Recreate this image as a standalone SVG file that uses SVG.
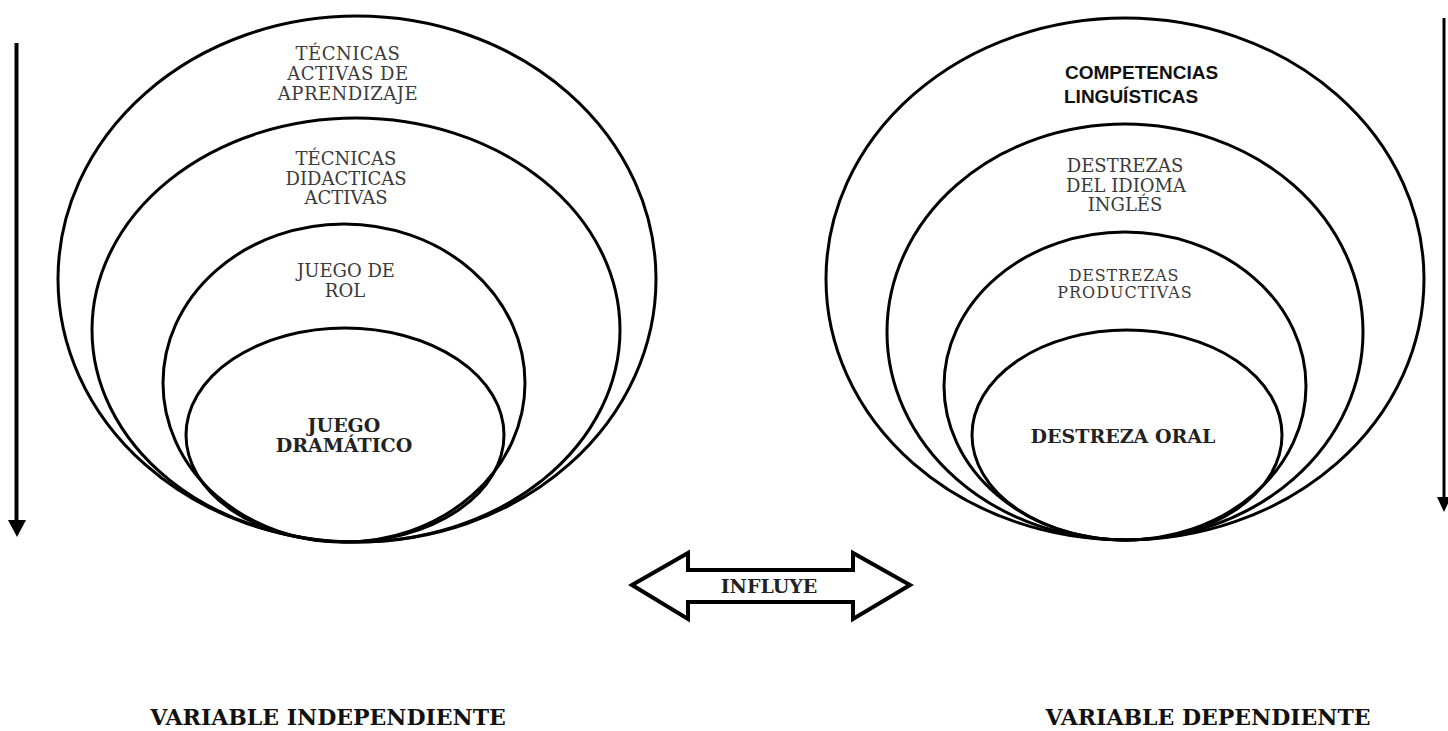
<svg xmlns="http://www.w3.org/2000/svg" width="1448" height="731" viewBox="0 0 1448 731">
<defs>
<style>
.e{fill:none;stroke:#000;stroke-width:3}
.t{font-family:"DejaVu Serif",serif;font-size:18px;fill:#3a3a3a;text-anchor:middle}
.b{font-family:"DejaVu Serif",serif;font-size:19px;font-weight:bold;fill:#222;text-anchor:middle}
.c{font-family:"Liberation Sans",Arial,sans-serif;font-size:19px;font-weight:bold;fill:#111;text-anchor:start}
.v{font-family:"DejaVu Serif",serif;font-size:22px;font-weight:bold;fill:#111;text-anchor:middle}
</style>
</defs>
<rect width="1448" height="731" fill="#fff"/>
<g id="left-outer"><ellipse class="e" cx="357" cy="279" rx="299" ry="263"/><text class="t" x="348" y="60" style="letter-spacing:0.5px">TÉCNICAS</text><text class="t" x="348" y="80" style="letter-spacing:0.5px">ACTIVAS DE</text><text class="t" x="348" y="100" style="letter-spacing:0.5px">APRENDIZAJE</text></g>
<g id="left-2"><ellipse class="e" cx="356" cy="330" rx="264" ry="212"/><text class="t" x="346" y="165">TÉCNICAS</text><text class="t" x="346" y="185">DIDACTICAS</text><text class="t" x="346" y="204">ACTIVAS</text></g>
<g id="left-3"><ellipse class="e" cx="344" cy="383" rx="181" ry="159"/><text class="t" x="346" y="277">JUEGO DE</text><text class="t" x="345" y="297">ROL</text></g>
<g id="left-inner"><ellipse class="e" cx="345" cy="435" rx="159" ry="107"/><text class="b" x="344" y="432">JUEGO</text><text class="b" x="344" y="452">DRAMÁTICO</text></g>
<g id="right-outer"><ellipse class="e" cx="1125" cy="279" rx="299" ry="261"/><text class="c" x="1065" y="79">COMPETENCIAS</text><text class="c" x="1064" y="103">LINGUÍSTICAS</text></g>
<g id="right-2"><ellipse class="e" cx="1125" cy="332" rx="238" ry="208"/><text class="t" x="1125" y="172">DESTREZAS</text><text class="t" x="1126" y="192">DEL IDIOMA</text><text class="t" x="1125" y="211">INGLÉS</text></g>
<g id="right-3"><ellipse class="e" cx="1125" cy="386" rx="181" ry="154"/><text class="t" x="1124" y="281" style="font-size:16px;letter-spacing:0.8px">DESTREZAS</text><text class="t" x="1125" y="298" style="font-size:16px;letter-spacing:1px">PRODUCTIVAS</text></g>
<g id="right-inner"><ellipse class="e" cx="1127" cy="435" rx="155" ry="105"/><text class="b" x="1123" y="443">DESTREZA ORAL</text></g>
<g id="influye"><path d="M632 585 L688 553 L688 570 L853 570 L853 553 L910 585 L853 619 L853 602 L688 602 L688 619 Z" fill="#fff" stroke="#000" stroke-width="4" stroke-linejoin="miter"/><text class="b" x="769" y="593">INFLUYE</text></g>
<g id="connectors">
<line x1="16.5" y1="43" x2="16.5" y2="522" stroke="#000" stroke-width="4"/>
<polygon points="8,520 26,520 17,537" fill="#000"/>
<line x1="1444" y1="18" x2="1444" y2="500" stroke="#000" stroke-width="3"/>
<polygon points="1437,497 1451,497 1444,512" fill="#000"/>
</g>
<g id="labels"><text class="v" x="328" y="725">VARIABLE INDEPENDIENTE</text><text class="v" x="1208" y="725">VARIABLE DEPENDIENTE</text></g>
</svg>
